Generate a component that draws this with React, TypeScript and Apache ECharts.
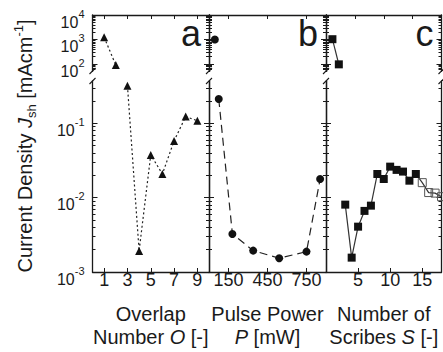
import React, { useEffect, useRef } from 'react';
import * as echarts from 'echarts';

// Panel a: overlap number O
const overlapO = [1, 2, 3, 4, 5, 6, 7, 8, 9];
const overlapJ = [1230, 91, 0.32, 0.00192, 0.0375, 0.0208, 0.0578, 0.123, 0.108];
// Panel b: pulse power P [mW]
const powerP = [45, 75, 180, 340, 540, 750, 855];
const powerJ = [1000, 0.212, 0.00325, 0.00194, 0.00153, 0.00188, 0.0178];
// Panel c: number of scribes S
const scribesS = [1, 2, 3, 4, 5, 6, 7, 8, 9, 10, 11, 12, 13, 14, 15, 16, 17, 18];
const scribesJ = [1030, 97, 0.00805, 0.00156, 0.00407, 0.00663, 0.0078, 0.0208, 0.0178, 0.0261, 0.0236, 0.0224, 0.0169, 0.0208, 0.0159, 0.0117, 0.0115, 0.0103];
const scribesOpenFrom = 15;

// tick labels
const xTicksO = [1, 3, 5, 7, 9];
const xTicksP = [150, 450, 750];
const xTicksS = [5, 10, 15];
const xTopTicksS = [4.5, 9, 13.5];
const yMajorUpper = [100, 1000, 10000];
const yMajorLower = [0.001, 0.01, 0.1];
const xRanges = [[0, 10], [0, 900], [0, 18]];
const yRangeUpper = [50, 10000];
const yRangeLower = [0.001, 0.37];

const FONT = 'Liberation Sans, Arial, sans-serif';
const INK = '#1a1a1a';

function minorTicks(lo: number, hi: number) {
  const out: number[] = [];
  for (let k = -4; k <= 4; k++) {
    for (let m = 2; m <= 9; m++) {
      const v = Number((m * Math.pow(10, k)).toPrecision(3));
      if (v > lo && v < hi) out.push(v);
    }
  }
  return out;
}

export default function App() {
  const ref = useRef<HTMLDivElement>(null);
  useEffect(() => {
    if (!ref.current) return;
    const chart = echarts.init(ref.current, null, { renderer: 'svg' });
    const L = [92.5, 209, 326];
    const W = [116.5, 117, 115.5];
    const grids: any[] = [];
    const xAxes: any[] = [];
    const yAxes: any[] = [];
    const xTicks = [xTicksO, xTicksP, xTicksS];
    const xTopTicks = [xTicksO, xTicksP, xTopTicksS];
    for (let p = 0; p < 3; p++) {
      for (let row = 0; row < 2; row++) {
        const g = p * 2 + row;
        const upper = row === 0;
        grids.push({
          left: L[p], width: W[p],
          top: upper ? 15 : 81, height: upper ? 56.4 : 191,
          containLabel: false, outerBoundsMode: 'none',
        });
        xAxes.push({
          type: 'value', gridIndex: g, min: xRanges[p][0], max: xRanges[p][1],
          position: upper ? 'top' : 'bottom',
          splitLine: { show: false },
          axisLine: { show: true, lineStyle: { color: INK, width: 1.3 } },
          axisTick: { show: true, inside: true, length: 4, customValues: upper ? xTopTicks[p] : xTicks[p], lineStyle: { color: INK, width: 1 } },
          axisLabel: upper ? { show: false } : {
            show: true, customValues: xTicks[p], margin: -1, fontSize: 18, fontFamily: FONT, color: INK,
          },
        });
        const yr = upper ? yRangeUpper : yRangeLower;
        const majors = upper ? yMajorUpper : yMajorLower;
        const minors = minorTicks(yr[0], yr[1]);
        for (const side of ['left', 'right']) {
          for (const kind of ['major', 'minor']) {
            const isMajor = kind === 'major';
            yAxes.push({
              type: 'log', logBase: 10, gridIndex: g, min: yr[0], max: yr[1], position: side,
              splitLine: { show: false },
              axisLine: { show: isMajor, lineStyle: { color: INK, width: 1.3 } },
              axisTick: { show: true, inside: true, length: isMajor ? 5 : 3, customValues: isMajor ? majors : minors, lineStyle: { color: INK, width: 1 } },
              axisLabel: (isMajor && side === 'left' && p === 0) ? {
                show: true, customValues: majors, margin: 8, padding: [8, 0, 0, 0],
                formatter: (v: number) => `{b|10}{s|${Math.round(Math.log10(v))}}`,
                rich: {
                  b: { fontSize: 16, fontFamily: FONT, color: INK, lineHeight: 22, verticalAlign: 'bottom' },
                  s: { fontSize: 11, fontFamily: FONT, color: INK, lineHeight: 8, verticalAlign: 'top' },
                },
              } : { show: false },
            });
          }
        }
      }
    }
    const yIdx = (g: number) => g * 4;
    const series: any[] = [];
    const addLine = (p: number, xs: number[], ys: number[], symbol: string, lineType: any, lineColor: string, size: number, openFrom?: number) => {
      for (let row = 0; row < 2; row++) {
        const g = p * 2 + row;
        const data: any[] = [];
        xs.forEach((x, i) => {
          const y = ys[i];
          const inUpper = y >= 1;
          if ((row === 0) !== inUpper) return;
          if (openFrom !== undefined && x >= openFrom) {
            data.push({ value: [x, y], itemStyle: { color: 'rgba(255,255,255,0)', borderColor: '#555', borderWidth: 1 } });
          } else {
            data.push([x, y]);
          }
        });
        series.push({
          type: 'line', xAxisIndex: g, yAxisIndex: yIdx(g), data,
          symbol, symbolSize: size, showSymbol: true, clip: false,
          itemStyle: { color: '#111' },
          lineStyle: { color: lineColor, width: 1.2, type: lineType },
          emphasis: { disabled: true }, silent: true, z: 3,
        });
      }
    };
    addLine(0, overlapO, overlapJ, 'triangle', [2, 2.5], '#222', 8);
    addLine(1, powerP, powerJ, 'circle', [8, 5], '#222', 8);
    addLine(2, scribesS, scribesJ, 'rect', 'solid', '#333', 8, scribesOpenFrom);

    const graphics: any[] = [];
    const axisXs = [92.5, 209, 326, 441.5];
    for (const x of axisXs) {
      graphics.push({ type: 'line', shape: { x1: x - 3, y1: 74, x2: x + 3, y2: 68 }, style: { stroke: INK, lineWidth: 1.1 } });
      graphics.push({ type: 'line', shape: { x1: x - 3, y1: 84, x2: x + 3, y2: 78 }, style: { stroke: INK, lineWidth: 1.1 } });
    }
    const letters = ['a', 'b', 'c'];
    letters.forEach((t, p) => {
      graphics.push({ type: 'text', x: L[p] + W[p] - 8, y: 33, style: { text: t, fontSize: 36, fontFamily: FONT, fill: INK, align: 'right', verticalAlign: 'middle' } });
    });
    const richN = {
      n: { fontSize: 20, fontFamily: FONT, fill: INK, color: INK, lineHeight: 23.5 },
      i: { fontSize: 20, fontFamily: FONT, fill: INK, color: INK, fontStyle: 'italic', lineHeight: 23.5 },
    };
    const xTitles = [
      '{n|Overlap}\n{n|Number }{i|O}{n| [-]}',
      '{n|Pulse Power}\n{i|P}{n| [mW]}',
      '{n|Number of}\n{n|Scribes }{i|S}{n| [-]}',
    ];
    xTitles.forEach((t, p) => {
      graphics.push({ type: 'text', x: L[p] + W[p] / 2, y: 302, style: { text: t, rich: richN, align: 'center', verticalAlign: 'top', fontSize: 20, fontFamily: FONT, fill: INK } });
    });
    graphics.push({
      type: 'text', x: 25, y: 146, rotation: Math.PI / 2,
      style: {
        text: '{n|Current Density }{i|J}{sub|sh}{n| [mAcm}{sup|-1}{n|]}',
        align: 'center', verticalAlign: 'middle', fontSize: 20, fontFamily: FONT, fill: INK,
        rich: {
          n: { fontSize: 20, fontFamily: FONT, fill: INK, lineHeight: 26, verticalAlign: 'middle' },
          i: { fontSize: 20, fontFamily: FONT, fill: INK, fontStyle: 'italic', lineHeight: 26, verticalAlign: 'middle' },
          sub: { fontSize: 13, fontFamily: FONT, fill: INK, lineHeight: 12, verticalAlign: 'bottom' },
          sup: { fontSize: 13, fontFamily: FONT, fill: INK, lineHeight: 12, verticalAlign: 'top' },
        },
      },
    });

    chart.setOption({
      animation: false,
      backgroundColor: '#fff',
      grid: grids,
      xAxis: xAxes,
      yAxis: yAxes,
      series,
      graphic: graphics,
    });
    return () => chart.dispose();
  }, []);
  return <div ref={ref} style={{ position: 'fixed', left: 0, top: 0, width: 443, height: 352 }} />;
}
